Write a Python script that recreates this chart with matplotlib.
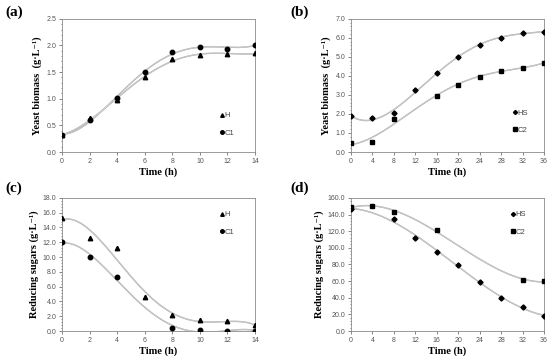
import numpy as np
import matplotlib
matplotlib.use("Agg")
import matplotlib.pyplot as plt
from matplotlib.ticker import MultipleLocator

# panel (a) - yeast biomass, short fermentation
t_a = [0, 2, 4, 6, 8, 10, 12, 14]
bio_H = [0.32, 0.63, 0.98, 1.41, 1.74, 1.83, 1.84, 1.85]
bio_C1 = [0.32, 0.61, 1.01, 1.50, 1.87, 1.98, 1.94, 2.01]

# panel (b) - yeast biomass, long fermentation
t_hs = [0, 4, 8, 12, 16, 20, 24, 28, 32, 36]
bio_HS = [1.88, 1.79, 2.05, 3.25, 4.14, 4.98, 5.65, 6.02, 6.25, 6.33]
t_c2 = [0, 4, 8, 16, 20, 24, 28, 32, 36]
bio_C2 = [0.47, 0.51, 1.72, 2.93, 3.54, 3.96, 4.28, 4.44, 4.67]

# panel (c) - reducing sugars, short fermentation
sug_H = [15.3, 12.6, 11.2, 4.55, 2.2, 1.5, 1.35, 0.77]
t_c1 = [0, 2, 4, 8, 10, 12, 14]
sug_C1 = [12.0, 10.0, 7.3, 0.36, 0.1, 0.05, 0.05]

# panel (d) - reducing sugars, long fermentation
t_hs_d = [0, 8, 12, 16, 20, 24, 28, 32, 36]
sug_HS = [146.5, 135, 112, 95, 79, 59, 40, 29, 18]
t_c2_d = [0, 4, 8, 16, 32, 36]
sug_C2 = [149, 150, 143.5, 121, 61, 60]

serif = ['Liberation Serif', 'DejaVu Serif']
sans = ['Liberation Sans', 'DejaVu Sans']


def fit_curve(ax, x, y, deg, xmax):
    # polynomial regression line, drawn as a thin hollow gray line
    p = np.polyfit(x, y, deg)
    xs = np.linspace(0, xmax, 200)
    ys = np.polyval(p, xs)
    ax.plot(xs, ys, color='#a0a0a0', lw=1.0, zorder=1)
    ax.plot(xs, ys, color='#f0f0f0', lw=0.3, zorder=1.1)


def style(ax, xmax, xstep, ymax, ystep, ylabel, fmt):
    ax.set_xlim(0, xmax)
    ax.set_ylim(0, ymax)
    ax.xaxis.set_major_locator(MultipleLocator(xstep))
    ax.yaxis.set_major_locator(MultipleLocator(ystep))
    ax.yaxis.set_minor_locator(MultipleLocator(ystep / 5))
    ax.yaxis.set_major_formatter(plt.FuncFormatter(lambda v, p: fmt.format(v)))
    ax.tick_params(which='both', direction='out', labelsize=5, colors='#555555',
                   length=2, width=0.5, pad=2)
    ax.tick_params(which='minor', length=1)
    for lab in ax.get_xticklabels() + ax.get_yticklabels():
        lab.set_family(sans)
    for s in ax.spines.values():
        s.set_color('#8a8a8a')
        s.set_linewidth(0.6)
    ax.set_xlabel('Time (h)', family=serif, fontweight='bold', fontsize=7.5, labelpad=2)
    ax.set_ylabel(ylabel, family=serif, fontweight='bold', fontsize=7.5, labelpad=3)


def legend(ax, x, y):
    ax.legend(loc='upper left', bbox_to_anchor=(x, y), frameon=False,
              prop={'family': sans, 'size': 5.5}, handlelength=0.4,
              handletextpad=0.15, labelspacing=1.3, borderpad=0,
              markerscale=0.8, labelcolor='#444444')


fig = plt.figure(figsize=(5.5, 3.56), dpi=100)
W = 0.351
H = 0.374
axa = fig.add_axes([0.1127, 0.573, W, H])
axb = fig.add_axes([0.638, 0.573, W, H])
axc = fig.add_axes([0.1127, 0.0702, W, H])
axd = fig.add_axes([0.638, 0.0702, W, H])

ms = 3.2

# (a)
fit_curve(axa, t_a, bio_H, 4, 14)
fit_curve(axa, t_a, bio_C1, 4, 14)
axa.plot(t_a, bio_H, '^', color='black', ms=ms, label='H', zorder=3)
axa.plot(t_a, bio_C1, 'o', color='black', ms=ms, label='C1', zorder=3)
style(axa, 14, 2, 2.5, 0.5, 'Yeast biomass  (g·L⁻¹)', '{:.1f}')
legend(axa, 0.8, 0.33)

# (b)
fit_curve(axb, t_hs, bio_HS, 4, 36)
fit_curve(axb, t_c2, bio_C2, 4, 36)
axb.plot(t_hs, bio_HS, 'D', color='black', ms=2.6, label='HS', zorder=3)
axb.plot(t_c2, bio_C2, 's', color='black', ms=ms, label='C2', zorder=3)
style(axb, 36, 4, 7, 1, 'Yeast biomass  (g·L⁻¹)', '{:.1f}')
legend(axb, 0.82, 0.35)

# (c)
fit_curve(axc, t_a, sug_H, 4, 14)
fit_curve(axc, t_c1, sug_C1, 4, 14)
axc.plot(t_a, sug_H, '^', color='black', ms=ms, label='H', zorder=3)
axc.plot(t_c1, sug_C1, 'o', color='black', ms=ms, label='C1', zorder=3)
style(axc, 14, 2, 18, 2, 'Reducing sugars (g·L⁻¹)', '{:.1f}')
legend(axc, 0.8, 0.93)

# (d)
fit_curve(axd, t_hs_d, sug_HS, 3, 36)
fit_curve(axd, t_c2_d, sug_C2, 3, 36)
axd.plot(t_hs_d, sug_HS, 'D', color='black', ms=2.6, label='HS', zorder=3)
axd.plot(t_c2_d, sug_C2, 's', color='black', ms=ms, label='C2', zorder=3)
style(axd, 36, 4, 160, 20, 'Reducing sugars (g·L⁻¹)', '{:.1f}')
legend(axd, 0.81, 0.93)

for txt, x, y in [('(a)', 0.01, 0.985), ('(b)', 0.528, 0.985),
                  ('(c)', 0.01, 0.49), ('(d)', 0.528, 0.49)]:
    fig.text(x, y, txt, family=serif, fontweight='bold', fontsize=11,
             va='top', ha='left')

fig.savefig('out.png', dpi=100)
